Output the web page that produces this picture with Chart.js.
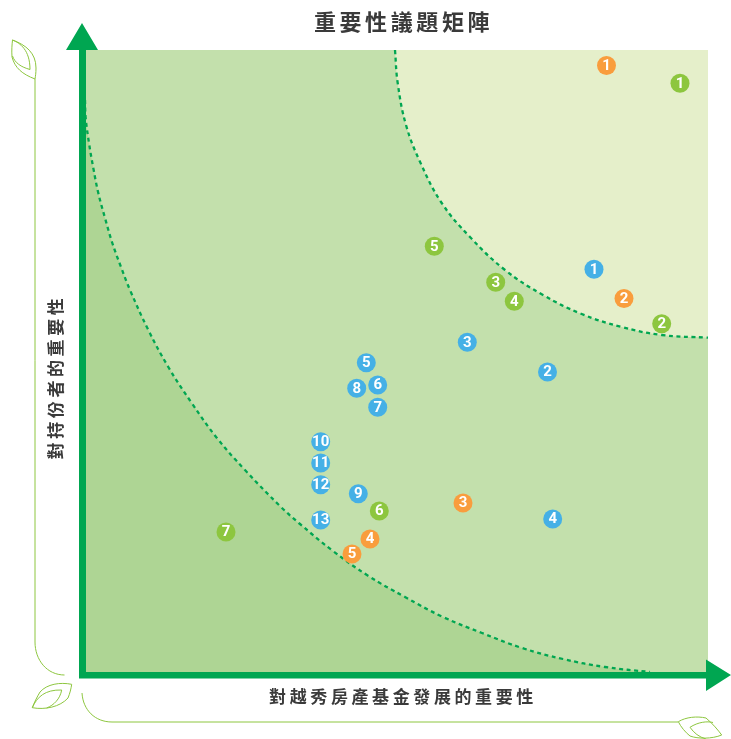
<!DOCTYPE html>
<html lang="zh-Hant">
<head>
<meta charset="utf-8">
<title>重要性議題矩陣</title>
<script src="https://cdn.jsdelivr.net/npm/chart.js@4/dist/chart.umd.js"></script>
<style>
  html, body { margin: 0; padding: 0; background: #fff; }
  canvas { display: block; }
</style>
</head>
<body>
<canvas id="matrix" width="731" height="739"></canvas>
<script>
// Text
const titleText = '重要性議題矩陣';
const xAxisTitle = '對越秀房產基金發展的重要性';
const yAxisTitle = '對持份者的重要性';

// Issues, numbered by their position in each array
const orangeX = [521.5, 539, 378, 285, 267];
const orangeY = [606.5, 373.5, 169, 133, 118];
const greenX = [595, 576.7, 410.7, 429.3, 349.3, 294.3, 141];
const greenY = [588.7, 348.3, 389.7, 370.7, 425.7, 161, 140];
const blueX = [509, 462.5, 382.3, 467.7, 281.3, 292.7, 292.7, 271.7, 273.3, 235.7, 235.7, 235.7, 235.7];
const blueY = [402.7, 300, 329.7, 153, 309.3, 287, 264.7, 283.7, 178.3, 230.3, 209, 187.3, 152];

// Zone boundaries
const lowerCurveX = [0, 0.7, 4, 8.3, 13.3, 20, 27.3, 36, 45, 63.3, 83.3, 106.7, 131.7, 160, 196, 215, 248, 283, 320, 358, 397, 437, 478, 520, 565];
const lowerCurveY = [572, 554, 529, 504, 479, 454, 429, 405, 382, 342, 305, 269, 234.3, 202, 165, 148, 121, 96.3, 75, 55, 39, 24, 13, 5, 0];
const upperCurveX = [310, 312.7, 321, 335, 356.7, 385, 420, 458, 496.7, 536.7, 576.7, 623];
const upperCurveY = [622, 589, 547, 510.3, 469, 435, 402, 377, 358, 345, 337, 334.3];

const xMax = 623;
const yMax = 622;

const ORANGE = '#f99d3d';
const GREEN = '#8dc63f';
const BLUE = '#45b0e6';
const AXIS = '#00a651';
const LEAF = '#8dc63f';
const ZONE_LOW = '#aed594';
const ZONE_MID = '#c3e0ac';
const ZONE_HIGH = '#e5efca';
const TEXT = '#3a3a3a';

const toPoints = (xs, ys) => xs.map((x, i) => ({ x, y: ys[i] }));

const issueSet = (label, xs, ys, color) => ({
  label,
  data: toPoints(xs, ys),
  showLine: false,
  pointRadius: 9.5,
  pointHoverRadius: 9.5,
  pointBackgroundColor: color,
  pointBorderWidth: 0,
  clip: false,
  numbered: true
});

const boundarySet = (label, xs, ys, fill, color) => ({
  label,
  data: toPoints(xs, ys),
  showLine: true,
  tension: 0.4,
  pointRadius: 0,
  borderColor: AXIS,
  borderWidth: 2.3,
  borderDash: [4, 3.6],
  fill,
  backgroundColor: color
});

// Mid zone, the leaf ornaments and the headings sit under the data
const backdrop = {
  id: 'backdrop',
  beforeDatasetsDraw(chart) {
    const { ctx, chartArea: a } = chart;
    ctx.save();
    ctx.fillStyle = ZONE_MID;
    ctx.fillRect(a.left, a.top, a.right - a.left, a.bottom - a.top);

    ctx.strokeStyle = LEAF;
    const stroke = (d, width) => { ctx.lineWidth = width; ctx.stroke(new Path2D(d)); };
    // Frame lines that join the leaves
    stroke('M35 79 L35 642 C35 660 47 675 64.5 675', 1);
    stroke('M82 693 C83 710 95 722 112 722 L678 722', 1);
    // Top-left leaf
    stroke('M12.5 40 C26 45 36 53 36 68 C36 73 35.5 76 35 79 C22 74 15 68 12 57 C11.5 50 12 45 12.5 40 Z', 1);
    stroke('M12.5 40 C20 43 30 50 30 69.5 C21 67 15 63 12.5 56', 1);
    // Bottom-left leaf
    stroke('M71.7 684.3 C60 682 47 684 40 692 C37 697 34 703 32.3 707.7 C45 710 60 707 68 698 C70 693 71 689 71.7 684.3 Z', 1);
    stroke('M32.3 707.7 C37 697 45 689.5 61.7 690 C60 699 54 705 46.7 708', 1);
    // Bottom-right leaf
    stroke('M678.3 721.7 C686 717 697 716 706 718 C713 724 718 730 721.7 735 C712 739 698 739 690 736 C685 732 681 727 678.3 721.7 Z', 1);
    stroke('M690 727.3 C698 722 707 721 713 722.5 M690 727.3 C694 733 699 737 706 739', 1);

    // Headings
    ctx.fillStyle = TEXT;
    ctx.textAlign = 'center';
    ctx.textBaseline = 'middle';
    ctx.letterSpacing = '3.6px';
    ctx.font = 'bold 22px "Noto Sans CJK TC"';
    ctx.fillText(titleText, 403.5, 22);
    ctx.font = 'bold 17px "Noto Sans CJK TC"';
    ctx.fillText(xAxisTitle, 403, 697);
    ctx.translate(56, 379);
    ctx.rotate(-Math.PI / 2);
    ctx.fillText(yAxisTitle, 2, 0);
    ctx.restore();
  }
};

// Arrowed axes and the numbers inside the markers
const overlay = {
  id: 'overlay',
  afterDatasetsDraw(chart) {
    const { ctx, chartArea: a } = chart;
    ctx.save();
    ctx.fillStyle = AXIS;
    ctx.fillRect(a.left - 6, a.top - 2, 7, a.bottom - a.top + 8);
    ctx.fillRect(a.left - 6, a.bottom, a.right - a.left + 8, 6.5);
    ctx.beginPath();
    ctx.moveTo(a.left - 3, a.top - 27);
    ctx.lineTo(a.left - 19, a.top);
    ctx.lineTo(a.left + 13, a.top);
    ctx.closePath();
    ctx.moveTo(a.right + 23, a.bottom + 3);
    ctx.lineTo(a.right - 2, a.bottom - 12.5);
    ctx.lineTo(a.right - 2, a.bottom + 19);
    ctx.closePath();
    ctx.fill();

    ctx.fillStyle = '#ffffff';
    ctx.textAlign = 'center';
    ctx.textBaseline = 'middle';
    ctx.font = 'bold 15px Roboto';
    chart.data.datasets.forEach((set, d) => {
      if (!set.numbered) return;
      chart.getDatasetMeta(d).data.forEach((pt, i) => {
        ctx.fillText(String(i + 1), pt.x, pt.y + 0.5);
      });
    });
    ctx.restore();
  }
};

new Chart(document.getElementById('matrix'), {
  type: 'scatter',
  data: {
    datasets: [
      issueSet('orange', orangeX, orangeY, ORANGE),
      issueSet('green', greenX, greenY, GREEN),
      issueSet('blue', blueX, blueY, BLUE),
      boundarySet('upper', upperCurveX, upperCurveY, 'end', ZONE_HIGH),
      boundarySet('lower', lowerCurveX, lowerCurveY, 'start', ZONE_LOW)
    ]
  },
  plugins: [backdrop, overlay],
  options: {
    responsive: false,
    animation: false,
    layout: { padding: { left: 85, right: 23, top: 50, bottom: 67 } },
    plugins: {
      legend: { display: false },
      tooltip: { enabled: false },
      title: { display: false }
    },
    scales: {
      x: { type: 'linear', min: 0, max: xMax, display: false },
      y: { type: 'linear', min: 0, max: yMax, display: false }
    }
  }
});
</script>
</body>
</html>
